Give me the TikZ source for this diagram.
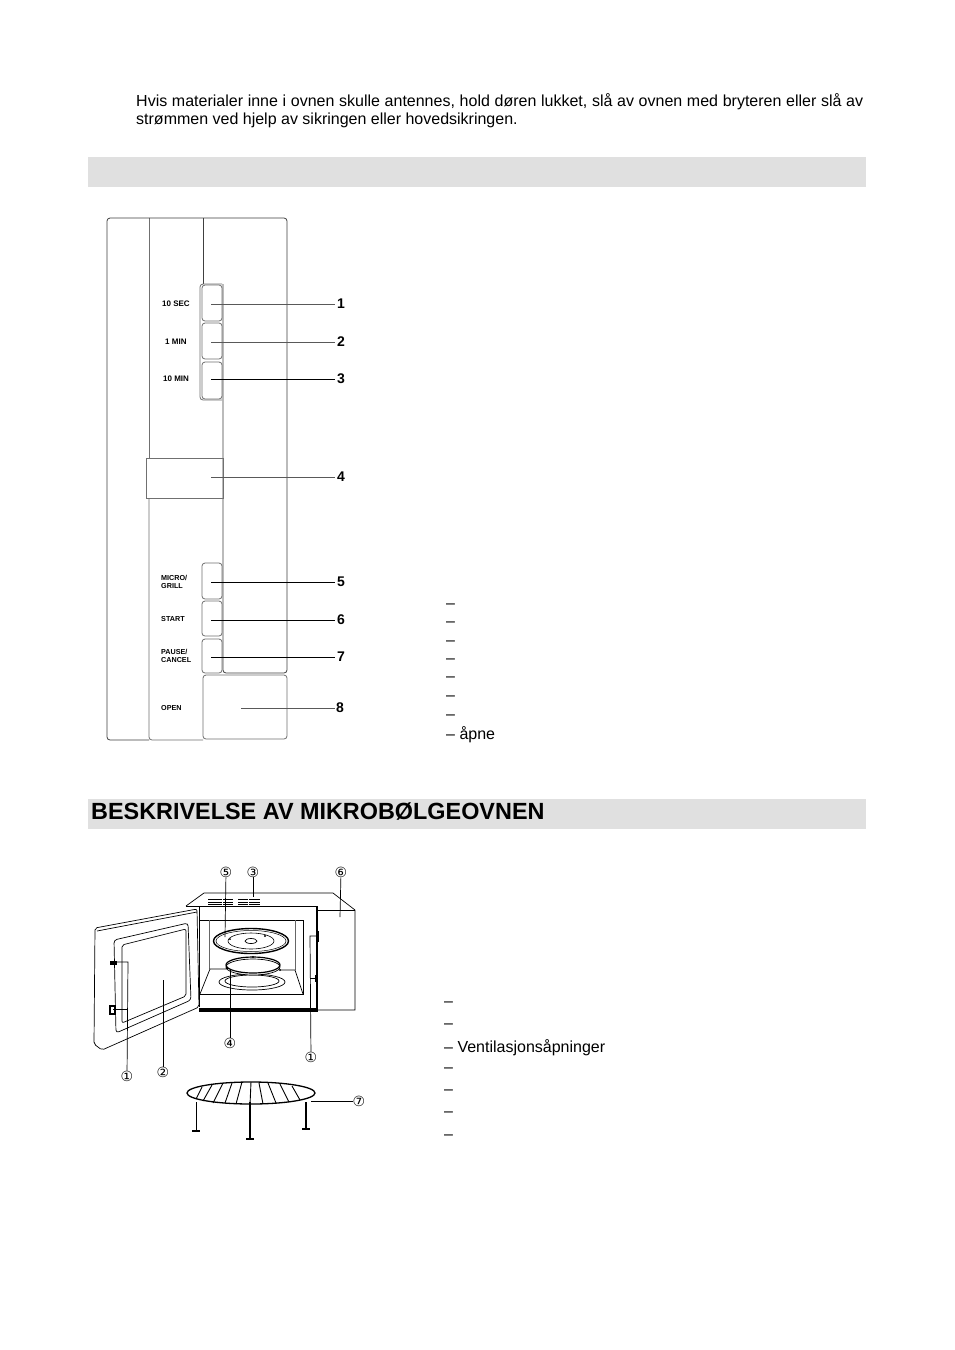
\documentclass[tikz,border=0pt]{standalone}
\usepackage{fontspec}
\setmainfont{Liberation Sans}
\newfontfamily\circfont{DejaVu Sans}
\definecolor{bannergray}{HTML}{E0E0E0}
\definecolor{panelgray}{HTML}{707070}
\begin{document}
\begin{tikzpicture}[x=1pt,y=-1pt]
	\tikzstyle{banner}=[fill=bannergray,draw=none]
	\tikzstyle{bodytext}=[anchor=west,inner sep=0pt,font=\fontsize{16}{18.4}\selectfont]
	\tikzstyle{panelline}=[draw=black!75,line width=0.8pt,rounded corners=3pt]
	\tikzstyle{softline}=[draw=panelgray,line width=0.8pt,rounded corners=3pt]
	\tikzstyle{keylabel}=[inner sep=0pt,font=\bfseries\fontsize{8}{8}\selectfont,align=left,anchor=west]
	\tikzstyle{lowkeylabel}=[inner sep=0pt,font=\bfseries\fontsize{7.2}{8}\selectfont,align=left,anchor=west]
	\tikzstyle{numlabel}=[inner sep=0pt,font=\bfseries\fontsize{14}{14}\selectfont]
	\tikzstyle{circlabel}=[inner sep=0pt,font=\circfont\fontsize{14}{14}\selectfont]
	\tikzstyle{leader}=[draw=black,line width=0.7pt]
	\tikzstyle{softleader}=[draw=black!65,line width=0.7pt]
	\tikzstyle{ovenline}=[draw=black,line width=0.7pt]
	\useasboundingbox (0,0) rectangle (954,1350);
	\fill[white] (0,0) rectangle (954,1350);
	% top text and banners
	\node[bodytext,text width=727pt,align=justify,anchor=north west] (intro) at (136,93) {Hvis materialer inne i ovnen skulle antennes, hold døren lukket, slå av ovnen med bryteren eller slå av strømmen ved hjelp av sikringen eller hovedsikringen.};
	\path[banner] (88,157) rectangle (866,187);
	\path[banner] (88,799) rectangle (866,829);
	\node[anchor=west,inner sep=0pt,font=\bfseries\fontsize{23.4}{24}\selectfont] (title) at (91,811) {BESKRIVELSE AV MIKROBØLGEOVNEN};
	% control panel
	\path[panelline] (149,218) -- (107,218) -- (107,740) -- (149,740);
	\path[softline] (149,218) -- (149,458);
	\path[softline] (149,498) -- (149,740) -- (203,740);
	\path[panelline] (149,218) -- (287,218) -- (287,673) -- (223,673) -- (223,284);
	\path[panelline] (203,218) -- (203,284);
	\path[softline] (222,284) -- (200,284) -- (200,400) -- (222,400);
	\foreach \ya/\yb in {285/321,323/359,362/399,563/599,601/636,639/673}
	{
		\path[softline] (202,\ya) rectangle (222,\yb);
	}
	\path[softline,rounded corners=0pt] (146,458) rectangle (223,498);
	\path[softline] (203,675) rectangle (287,739);
	\node[keylabel] (sec) at (162,304) {10 SEC};
	\node[keylabel] (onemin) at (165,342) {1 MIN};
	\node[keylabel] (tenmin) at (163,379) {10 MIN};
	\node[lowkeylabel] (micro) at (161,582) {MICRO/\\GRILL};
	\node[lowkeylabel] (start) at (161,619) {START};
	\node[lowkeylabel] (pause) at (161,656) {PAUSE/\\CANCEL};
	\node[lowkeylabel] (open) at (161,708) {OPEN};
	\foreach \n/\y/\sty in {1/304/softleader,2/342/softleader,3/379/leader,4/477/softleader,5/582/leader,6/620/leader,7/657/leader}
	{
		\node[numlabel] (num\n) at (341,\y) {\n};
		\coordinate (key\n) at (211,\y);
		\coordinate (end\n) at (335,\y);
		\draw[\sty] (key\n) -- (end\n);
	}
	\node[numlabel] (num8) at (340,708) {8};
	\coordinate (key8) at (241,708);
	\coordinate (end8) at (335,708);
	\draw[softleader] (key8) -- (end8);
	% dash lists
	\foreach \i/\y in {1/606,2/624,3/643,4/661,5/679,6/698,7/717}
	{
		\node[bodytext] (dasha\i) at (446,\y) {–};
	}
	\node[bodytext] (dasha8) at (446,735) {– åpne};
	\foreach \i/\y in {1/1004,2/1026,4/1070,5/1092,6/1114,7/1137}
	{
		\node[bodytext] (dashb\i) at (444,\y) {–};
	}
	\node[bodytext] (dashb3) at (444,1048) {– Ventilasjonsåpninger};
	% door
	\path[ovenline,rounded corners=2pt] (95,928) -- (197,909) -- (199,1007) -- (102,1050) -- (94,1044) -- cycle;
	\path[ovenline] (97,931) -- (197,912);
	\path[ovenline,rounded corners=3pt] (114,940) -- (188,923) -- (191,1000) -- (116,1033) -- cycle;
	\path[ovenline,rounded corners=2pt] (122,945) -- (186,929) -- (186,996) -- (122,1023) -- cycle;
	% body
	\path[ovenline] (186,906) -- (204,893) -- (333,893) -- (355,910) -- (355,1010) -- (318,1010);
	\path[ovenline] (186,906) -- (317,906);
	\path[ovenline] (318,910) -- (355,910);
	\path[ovenline] (199,906) -- (199,1007);
	\draw[black,line width=1.5pt] (317,906) -- (317,1010);
	\draw[black,line width=4pt] (199,1010) -- (318,1010);
	% cavity
	\path[ovenline] (200,920) -- (303,920) -- (303,994) -- (200,994);
	\path[ovenline,black!60] (209,920) -- (209,969) (295,920) -- (295,970);
	\path[ovenline] (200,994) -- (210,969) -- (226,969) (280,970) -- (295,970) -- (303,994);
	\foreach \x/\w in {208/14,223/10,238/10,249/11}
	{
		\foreach \y in {899,902,904}
		{
			\draw[black,line width=0.6pt] (\x,\y) -- ++(\w,0);
		}
	}
	% plate and ring
	\draw[black,line width=1.4pt] (251,941) ellipse (37.5 and 12.5);
	\draw[black,line width=0.5pt] (251,941) ellipse (35 and 10.5);
	\draw[black,line width=0.6pt] (251,941) ellipse (23 and 8);
	\draw[black,line width=0.7pt] (251,941) ellipse (6 and 2.5);
	\draw[black,line width=0.7pt] (252,982) ellipse (33 and 8);
	\draw[black,line width=0.7pt] (252,981) ellipse (27 and 6);
	\fill[white] (253,967) ellipse (27 and 8);
	\draw[black,line width=1.2pt] (253,965) ellipse (27 and 8);
	\draw[black,line width=0.7pt] (253,967) ellipse (27 and 8);
	\fill (253,957) circle (1.2);
	\fill (227,968) circle (1.5);
	\fill (280,970) circle (1.2);
	\fill (230,939) circle (1);
	\fill (265,936) circle (1.2);
	% door catches
	\fill[black] (110,961) rectangle (117,965);
	\path[ovenline,line width=1.2pt] (110,1006) rectangle (115,1014);
	\path[ovenline] (316,931) rectangle (318,941);
	\fill[black] (315,975) rectangle (318,982);
	% oven labels
	\node[circlabel] (c5) at (226,872) {⑤};
	\node[circlabel] (c3) at (253,872) {③};
	\node[circlabel] (c6) at (341,872) {⑥};
	\node[circlabel] (c4) at (230,1043) {④};
	\node[circlabel] (c1r) at (311,1057) {①};
	\node[circlabel] (c1l) at (127,1076) {①};
	\node[circlabel] (c2) at (163,1072) {②};
	\node[circlabel] (c7) at (359,1101) {⑦};
	\coordinate (plate) at (225,937);
	\coordinate (vent) at (253,897);
	\coordinate (side) at (340,917);
	\coordinate (ring) at (230,970);
	\coordinate (window) at (163,980);
	\coordinate (catchr) at (316,936);
	\coordinate (catchlow) at (315,978);
	\coordinate (catcha) at (113,962);
	\coordinate (catchb) at (113,1009);
	\coordinate (grillend) at (311,1101);
	\draw[leader] (c5) -- (plate);
	\draw[leader] (c3) -- (vent);
	\draw[leader] (c6) -- (side);
	\draw[leader] (c4) -- (ring);
	\draw[leader] (c2) -- (window);
	\draw[leader] (c1r) -- (310,936) -- (catchr);
	\draw[leader] (310,978) -- (catchlow);
	\draw[leader] (c1l) -- (128,962) -- (catcha);
	\draw[leader] (128,1009) -- (catchb);
	\draw[leader] (grillend) -- (c7);
	% grill
	\draw[black,line width=1.3pt] (251,1093) ellipse (64 and 11);
	\foreach \xa/\ya/\xb/\yb in {202/1087/196/1099,212/1085/203/1101,223/1083/213/1103,232/1083/225/1103,242/1082/236/1104,251/1082/250/1105,259/1083/263/1104,268/1083/276/1103,280/1084/289/1102,292/1086/300/1100}
	{
		\draw[black,line width=0.9pt] (\xa,\ya) -- (\xb,\yb);
	}
	\foreach \x/\yb/\lw in {196/1131/0.9,250/1139/1.2,306/1129/1.4}
	{
		\draw[black,line width=\lw pt] (\x,1102) -- (\x,\yb);
		\draw[black,line width=1.4pt] (\x-4,\yb) -- (\x+4,\yb);
	}
\end{tikzpicture}
\end{document}
